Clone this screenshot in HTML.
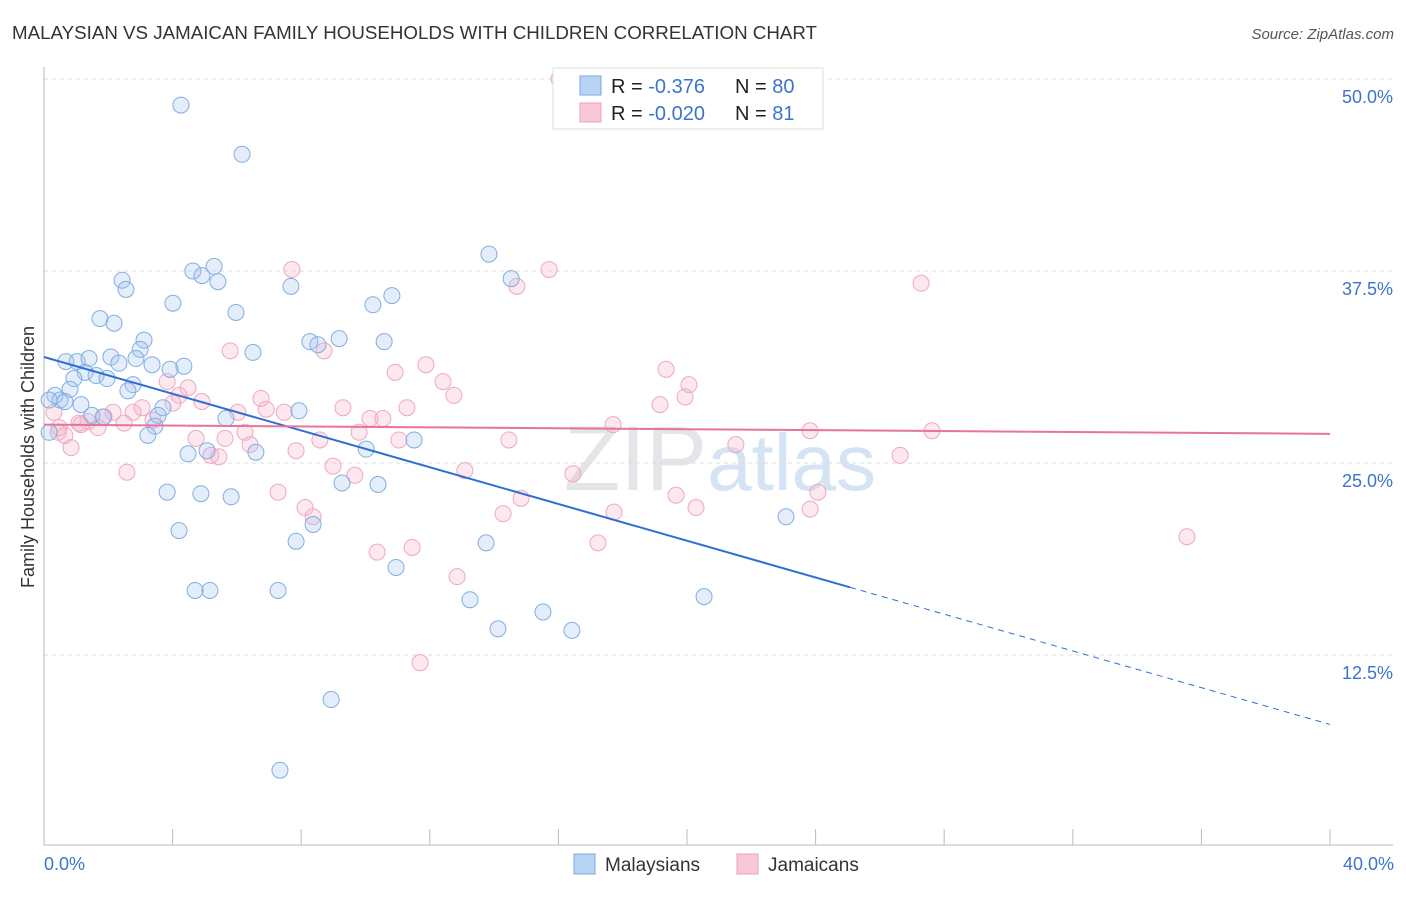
<!DOCTYPE html>
<html><head><meta charset="utf-8">
<style>
body{margin:0;background:#fff;font-family:"Liberation Sans",sans-serif;}
svg text{font-family:"Liberation Sans",sans-serif;}
</style></head>
<body>
<svg id="chart" width="1406" height="892" xmlns="http://www.w3.org/2000/svg">
<text x="12" y="39" font-size="18" fill="#333" textLength="805" lengthAdjust="spacingAndGlyphs">MALAYSIAN VS JAMAICAN FAMILY HOUSEHOLDS WITH CHILDREN CORRELATION CHART</text>
<text x="1394" y="39" font-size="15" fill="#555" text-anchor="end" font-style="italic">Source: ZipAtlas.com</text>
<text x="720" y="490" font-size="92" fill="#e4e8ee" text-anchor="middle" font-family="Liberation Serif"><tspan fill="#e3e5e8">ZIP</tspan><tspan fill="#d5e4f4" font-family="Liberation Sans" font-size="80">atlas</tspan></text>
<g id="grid"></g>
<g id="axes"></g>
<g id="pts"></g>
<g id="trends"></g>
<text transform="translate(34,457) rotate(-90)" font-size="18" fill="#333" text-anchor="middle">Family Households with Children</text>
<text x="44" y="870" font-size="18" fill="#3d74c9">0.0%</text>
<text x="1394" y="870" font-size="18" fill="#3d74c9" text-anchor="end">40.0%</text>
<g>
<rect x="553" y="68" width="270" height="61" fill="#fff" stroke="#ddd"/>
<rect x="580" y="76" width="21" height="19" fill="#b9d3f5" stroke="#7aa7e0"/>
<rect x="580" y="103" width="21" height="19" fill="#f9c8d6" stroke="#efa0bb"/>
<text x="611" y="93" font-size="20" fill="#222">R = <tspan fill="#3d74c9">-0.376</tspan></text>
<text x="735" y="93" font-size="20" fill="#222">N = <tspan fill="#3d74c9">80</tspan></text>
<text x="611" y="120" font-size="20" fill="#222">R = <tspan fill="#3d74c9">-0.020</tspan></text>
<text x="735" y="120" font-size="20" fill="#222">N = <tspan fill="#3d74c9"> 81</tspan></text>
</g>
<g>
<rect x="574" y="854" width="21" height="20" fill="#b9d3f5" stroke="#7aa7e0"/>
<text x="605" y="871" font-size="19" fill="#333">Malaysians</text>
</g>
<g>
<rect x="737" y="854" width="21" height="20" fill="#f9c8d6" stroke="#efa0bb"/>
<text x="768" y="871" font-size="19" fill="#333">Jamaicans</text>
</g>
</svg>
<script>
const yTicks=[12.5,25,37.5,50];
const yTickLabels=["12.5%","25.0%","37.5%","50.0%"];
const xTicks=[0,4,8,12,16,20,24,28,32,36,40];
const malX=[4.26,6.16,13.84,14.53,4.63,5.29,4.91,5.41,2.43,2.55,7.68,10.82,10.23,4.01,5.97,1.74,2.18,8.27,9.18,8.52,10.58,3.11,2.99,6.50,0.68,1.03,1.40,2.08,2.33,2.86,3.36,4.35,3.92,1.28,1.62,0.93,1.96,2.77,0.81,2.61,0.34,0.50,0.16,0.65,1.15,3.70,7.93,1.49,1.84,3.55,5.66,3.45,3.23,0.16,11.51,4.48,5.07,6.59,10.02,3.83,4.88,5.82,9.27,10.39,4.20,8.37,7.84,13.75,10.95,23.08,4.70,5.16,7.28,13.25,20.53,15.52,14.12,16.42,8.93,7.34];
const malY=[48.3,45.1,38.6,37.0,37.5,37.8,37.2,36.8,36.9,36.3,36.5,35.9,35.3,35.4,34.8,34.4,34.1,32.9,33.1,32.7,32.9,33.0,32.4,32.2,31.6,31.6,31.8,31.9,31.5,31.8,31.4,31.3,31.1,30.9,30.7,30.5,30.5,30.1,29.8,29.7,29.4,29.1,29.1,29.0,28.8,28.6,28.4,28.1,28.0,28.1,27.9,27.4,26.8,27.0,26.5,25.6,25.8,25.7,25.9,23.1,23.0,22.8,23.7,23.6,20.6,21.0,19.9,19.8,18.2,21.5,16.7,16.7,16.7,16.1,16.3,15.3,14.2,14.1,9.6,5.0];
const jamX=[16.02,7.71,15.71,14.71,27.28,5.79,8.71,11.88,10.92,19.35,12.41,3.83,4.48,20.06,12.75,6.75,4.20,4.91,19.94,3.05,4.01,9.30,11.29,19.16,2.15,6.03,6.91,7.47,10.14,10.54,1.87,2.77,1.37,2.49,3.39,1.09,0.31,0.47,1.68,0.44,0.65,1.15,9.80,6.25,17.70,23.83,27.62,4.73,5.63,8.58,11.04,14.46,0.84,6.41,7.84,5.19,5.44,21.52,26.63,8.99,9.67,13.09,16.45,2.58,7.28,24.07,14.84,19.66,8.12,8.37,14.28,17.73,20.28,23.83,17.23,10.36,11.45,35.55,12.85,11.70];
const jamY=[50.0,37.6,37.6,36.5,36.7,32.3,32.3,31.4,30.9,31.1,30.3,30.3,29.9,30.1,29.4,29.2,29.4,29.0,29.3,28.6,28.9,28.6,28.6,28.8,28.3,28.3,28.5,28.3,27.9,27.9,28.0,28.3,27.7,27.6,27.8,27.6,28.3,27.3,27.3,27.0,26.8,27.5,27.0,27.0,27.5,27.1,27.1,26.6,26.6,26.5,26.5,26.5,26.0,26.2,25.8,25.5,25.4,26.2,25.5,24.8,24.2,24.5,24.3,24.4,23.1,23.1,22.7,22.9,22.1,21.5,21.7,21.8,22.1,22.0,19.8,19.2,19.5,20.2,17.6,12.0];
const malTrend=[31.9,-0.598];
const jamTrend=[27.5,-0.015];
const malSolidEnd=25.07;

const NS="http://www.w3.org/2000/svg";
const X=v=>44+v/40*1286;
const Y=v=>79+(50-v)*15.36;
function mk(tag,attrs,parent){const e=document.createElementNS(NS,tag);for(const k in attrs)e.setAttribute(k,attrs[k]);parent.appendChild(e);return e;}
const grid=document.getElementById('grid'),axes=document.getElementById('axes'),pts=document.getElementById('pts'),tr=document.getElementById('trends');
yTicks.forEach((t,i)=>{
 const l=mk('line',{x1:44,x2:1393,y1:Y(t),y2:Y(t),stroke:'#ddd','stroke-dasharray':'4,4'},grid);
 
 
 const tx=mk('text',{x:1393,y:Y(t)+24,'font-size':18,fill:'#3d74c9','text-anchor':'end'},grid);
 tx.textContent=yTickLabels[i];
 
 
});
const ax=mk('path',{d:'M44,67V845H1393',stroke:'#bbb',fill:'none'},axes);


xTicks.forEach(t=>{
 const l=mk('line',{x1:X(t),x2:X(t),y1:829,y2:845,stroke:'#bbb'},axes);
 
 
});
function dots(xs,ys,fill,stroke,name){
 xs.forEach((x,i)=>{
  const c=mk('circle',{cx:X(x),cy:Y(ys[i]),r:8,fill:fill,stroke:stroke,'stroke-width':1},pts);
  
  
 });
}
dots(jamX,jamY,'rgba(246,180,200,0.3)','#f0a7c0','jamaican-point');
dots(malX,malY,'rgba(164,196,240,0.3)','#82ade2','malaysian-point');
const f=(t,x)=>t[0]+t[1]*x;
const b1=mk('line',{x1:X(0),y1:Y(f(malTrend,0)),x2:X(malSolidEnd),y2:Y(f(malTrend,malSolidEnd)),stroke:'#2d6fd6','stroke-width':2},tr);


const b2=mk('line',{x1:X(malSolidEnd),y1:Y(f(malTrend,malSolidEnd)),x2:X(40),y2:Y(f(malTrend,40)),stroke:'#2d6fd6','stroke-width':1,'stroke-dasharray':'6,5'},tr);


const p1=mk('line',{x1:X(0),y1:Y(f(jamTrend,0)),x2:X(40),y2:Y(f(jamTrend,40)),stroke:'#e8739c','stroke-width':2},tr);


</script>
</body></html>
